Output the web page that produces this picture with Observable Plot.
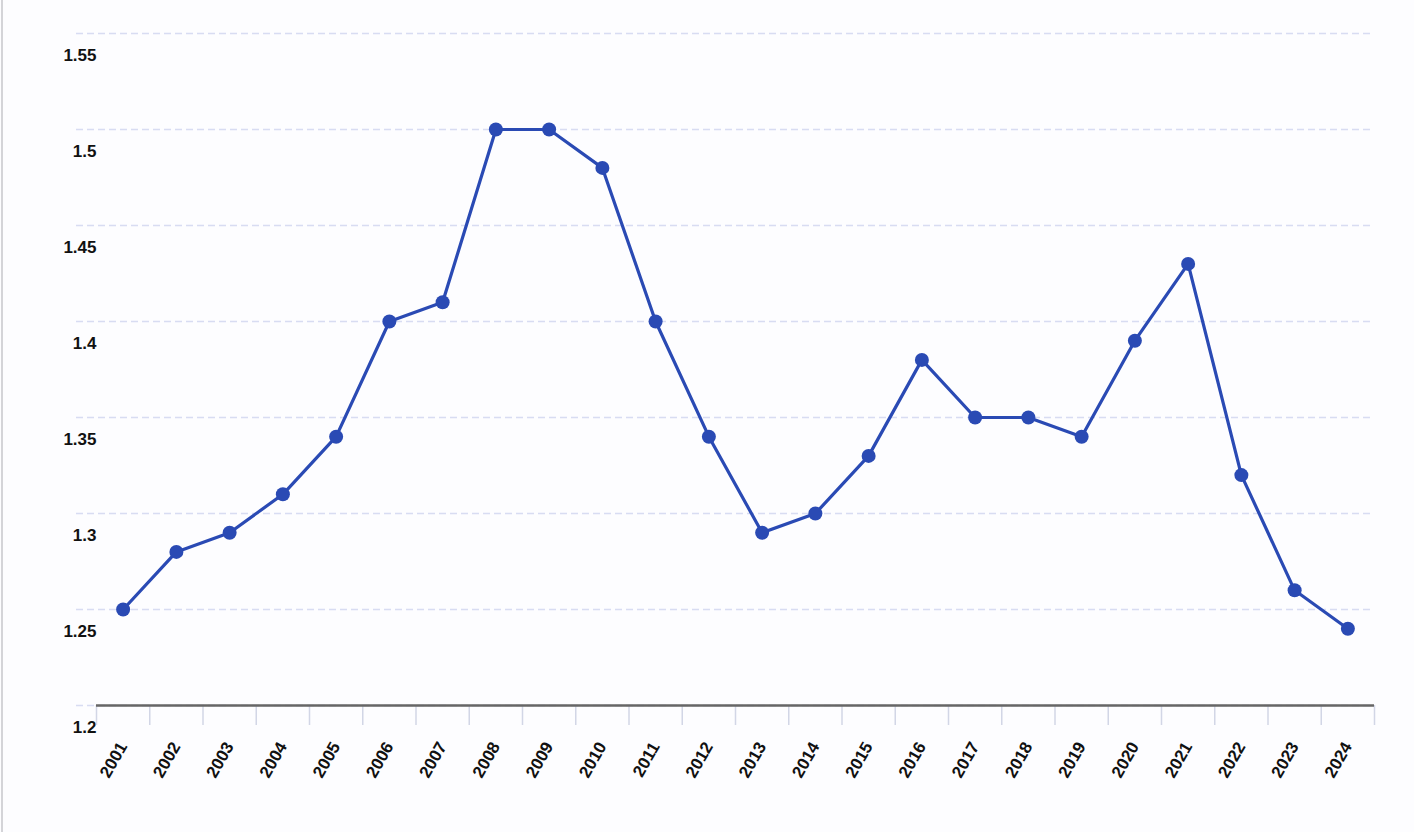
<!DOCTYPE html>
<html>
<head>
<meta charset="utf-8">
<script src="https://cdn.jsdelivr.net/npm/d3@7"></script>
<script src="https://cdn.jsdelivr.net/npm/@observablehq/plot@0.6"></script>
<style>
  html, body { margin: 0; padding: 0; background: #fdfdff; overflow: hidden; }
  #chart { position: relative; width: 1414px; height: 832px; }
  #edge { position: absolute; left: 1px; top: 0; width: 2px; height: 832px; background: #d4d4d8; }
  svg { display: block; }
</style>
</head>
<body>
<div id="chart"><div id="edge"></div></div>
<script>
const years = [2001, 2002, 2003, 2004, 2005, 2006, 2007, 2008, 2009, 2010, 2011, 2012,
               2013, 2014, 2015, 2016, 2017, 2018, 2019, 2020, 2021, 2022, 2023, 2024];
const values = [1.25, 1.28, 1.29, 1.31, 1.34, 1.40, 1.41, 1.50, 1.50, 1.48, 1.40, 1.34,
                1.29, 1.30, 1.33, 1.38, 1.35, 1.35, 1.34, 1.39, 1.43, 1.32, 1.26, 1.24];
const yTicks = [1.2, 1.25, 1.3, 1.35, 1.4, 1.45, 1.5, 1.55];
const boundaries = years.map(y => y - 0.5).concat([years[years.length - 1] + 0.5]);

const data = years.map((year, i) => ({year, value: values[i]}));
const color = "#2a4ab4";
const font = "'Liberation Sans', Arial, sans-serif";

const chart = Plot.plot({
  width: 1414,
  height: 832,
  marginLeft: 96,
  marginRight: 40,
  marginTop: 33,
  marginBottom: 127,
  style: {background: "transparent", fontFamily: font},
  x: {type: "linear", domain: [2000.5, 2024.5]},
  y: {domain: [1.2, 1.55]},
  marks: [
    Plot.ruleY(yTicks, {stroke: "#d8dcf2", strokeWidth: 1.5, strokeDasharray: "7,4", insetLeft: -20}),
    Plot.axisY(yTicks, {
      tickSize: 0, tickPadding: 0, dy: 22,
      tickFormat: d => String(d),
      fontSize: 17, fontWeight: "bold", fill: "#111", label: null
    }),
    Plot.axisX(boundaries, {
      tickSize: 20, stroke: "#d2d6e6", strokeWidth: 1.5,
      tickFormat: () => "", label: null
    }),
    Plot.axisX(years, {
      tickSize: 0, tickPadding: 38, tickRotate: -60,
      tickFormat: d => String(d),
      fontSize: 17, fontWeight: "bold", fill: "#111", label: null
    }),
    Plot.ruleY([1.2], {stroke: "#666", strokeWidth: 2.5}),
    Plot.line(data, {x: "year", y: "value", stroke: color, strokeWidth: 3.2}),
    Plot.dot(data, {x: "year", y: "value", r: 7, fill: color, stroke: "none"})
  ]
});
document.getElementById("chart").appendChild(chart);
</script>
</body>
</html>
